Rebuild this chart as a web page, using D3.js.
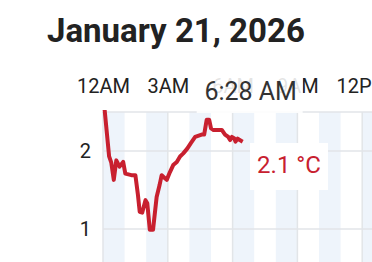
<!DOCTYPE html>
<html>
<head>
<meta charset="utf-8">
<script src="https://cdn.jsdelivr.net/npm/d3@7"></script>
<style>
  body { margin: 0; background: #fff; font-family: Roboto, "Noto Sans", sans-serif; }
  svg { display: block; }
</style>
</head>
<body>
<svg width="372" height="262"></svg>
<script>
// minutes after midnight, Jan 21 2026
const readMinutes = [3, 17, 23, 30, 37, 46, 56, 62, 79, 90, 97, 102, 109, 118, 123, 130, 139, 149, 157, 163,
  172, 177, 186, 195, 205, 214, 223, 234, 244, 256, 274, 281, 288, 295, 300, 307, 330, 339, 348, 353,
  358, 365, 368, 374, 380, 388];
const temps = [2.60, 1.93, 1.85, 1.63, 1.88, 1.80, 1.86, 1.71, 1.69, 1.69, 1.44, 1.22, 1.21, 1.37, 1.33, 0.99, 0.99, 1.41, 1.56, 1.69,
  1.65, 1.63, 1.73, 1.82, 1.86, 1.93, 1.97, 2.03, 2.10, 2.18, 2.21, 2.21, 2.40, 2.40, 2.29, 2.27, 2.27, 2.21, 2.18, 2.14,
  2.18, 2.16, 2.12, 2.16, 2.14, 2.12];
const yTicks = [1, 2];
const titleText = 'January 21, 2026';
const cursorLabel = '6:28 AM';
const valueLabel = '2.1 °C';

const day = new Date(2026, 0, 21);
const atMin = m => new Date(day.getTime() + m * 60000);
const points = readMinutes.map((m, i) => ({t: atMin(m), v: temps[i]}));

const svg = d3.select('svg');
const plotTop = 112, plotBottom = 270;

const x = d3.scaleTime()
  .domain([atMin(0), atMin(13 * 60)])
  .range([103, 383.8]);
const y = d3.scaleLinear().domain([0.5, 2.5]).range([268, 112]);

svg.append('text')
  .attr('x', 47).attr('y', 42)
  .attr('font-size', 33).attr('font-weight', 700)
  .attr('fill', '#222')
  .text(titleText);

// hour bands
const hours = d3.range(0, 13);
svg.append('g').selectAll('rect')
  .data(hours.filter(h => h % 2 === 0))
  .join('rect')
  .attr('x', h => x(atMin(h * 60)))
  .attr('width', h => x(atMin((h + 1) * 60)) - x(atMin(h * 60)))
  .attr('y', plotTop).attr('height', plotBottom - plotTop)
  .attr('fill', '#eef4fb');

// grid
const grid = svg.append('g').attr('stroke', '#e2e5e8').attr('stroke-width', 1.5);
grid.selectAll('.vg')
  .data(x.ticks(d3.timeHour.every(3)))
  .join('line')
  .attr('x1', d => x(d)).attr('x2', d => x(d))
  .attr('y1', plotTop).attr('y2', plotBottom);
grid.selectAll('.hg')
  .data([...yTicks, 2.5])
  .join('line')
  .attr('x1', 103).attr('x2', 372)
  .attr('y1', d => y(d)).attr('y2', d => y(d));

// top time axis
const xAxis = svg.append('g')
  .attr('transform', 'translate(0,93)')
  .call(d3.axisTop(x).ticks(d3.timeHour.every(3)).tickFormat(d3.timeFormat('%-I%p')).tickSize(0).tickPadding(0));
xAxis.select('.domain').remove();
xAxis.selectAll('text').attr('font-size', 20).attr('fill', '#222').attr('font-family', 'Roboto').attr('dy', 0);

// left value axis
const yAxis = svg.append('g')
  .attr('transform', 'translate(91,0)')
  .call(d3.axisLeft(y).tickValues(yTicks).tickFormat(d3.format('d')).tickSize(0).tickPadding(0));
yAxis.select('.domain').remove();
yAxis.selectAll('text').attr('font-size', 20).attr('fill', '#222').attr('font-family', 'Roboto');

// line
svg.append('clipPath').attr('id', 'clip')
  .append('rect').attr('x', 100).attr('y', 110).attr('width', 280).attr('height', 160);
svg.append('path')
  .datum(points)
  .attr('clip-path', 'url(#clip)')
  .attr('fill', 'none')
  .attr('stroke', '#c8202f')
  .attr('stroke-width', 4)
  .attr('stroke-linejoin', 'round')
  .attr('d', d3.line().x(d => x(d.t)).y(d => y(d.v)));

// cursor label
const last = points[points.length - 1];
svg.append('rect')
  .attr('x', x(last.t) - 46).attr('y', 74).attr('width', 106).attr('height', 39)
  .attr('fill', '#fff').attr('fill-opacity', 0.88);
svg.append('text')
  .attr('x', x(last.t) + 8).attr('y', 100)
  .attr('text-anchor', 'middle')
  .attr('font-size', 25).attr('fill', '#333')
  .text(cursorLabel);

// value label
svg.append('rect')
  .attr('x', 250).attr('y', 143).attr('width', 78).attr('height', 47)
  .attr('fill', '#fff');
svg.append('text')
  .attr('x', 289).attr('y', 173)
  .attr('text-anchor', 'middle')
  .attr('font-size', 24).attr('fill', '#c8202f')
  .text(valueLabel);
</script>
</body>
</html>
